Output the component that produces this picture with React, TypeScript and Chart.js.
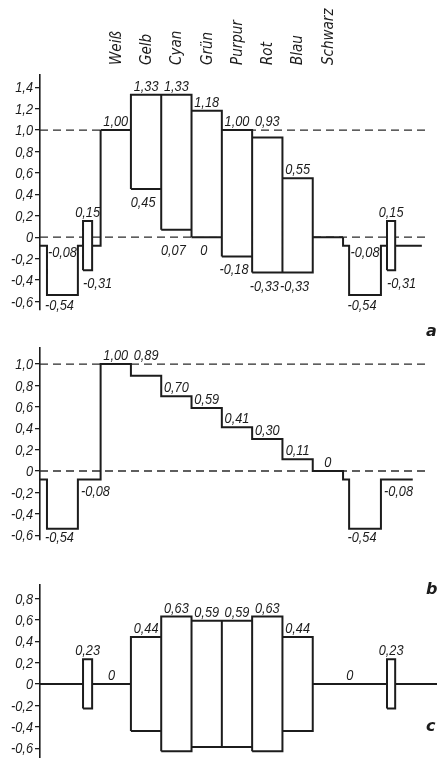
import React, { useEffect, useRef } from 'react';
import { Chart, registerables } from 'chart.js';

Chart.register(...registerables);

// ---------- data ----------
const colorNames = ['Weiß', 'Gelb', 'Cyan', 'Grün', 'Purpur', 'Rot', 'Blau', 'Schwarz'];
// a: composite signal, upper and lower envelope of each colour bar
const upperA = [1.0, 1.33, 1.33, 1.18, 1.0, 0.93, 0.55, 0];
const lowerA = [1.0, 0.45, 0.07, 0, -0.18, -0.33, -0.33, 0];
// b: luminance
const lumaB = [1.0, 0.89, 0.7, 0.59, 0.41, 0.3, 0.11, 0];
// c: chrominance amplitude
const chromaC = [0, 0.44, 0.63, 0.59, 0.59, 0.63, 0.44, 0];

const blankLevel = -0.08;
const syncLevel = -0.54;
const burstAmp = 0.23;
const refLevels = [1.0, 0];

const ticksA = [-0.6, -0.4, -0.2, 0, 0.2, 0.4, 0.6, 0.8, 1.0, 1.2, 1.4];
const ticksB = [-0.6, -0.4, -0.2, 0, 0.2, 0.4, 0.6, 0.8, 1.0];
const ticksC = [-0.6, -0.4, -0.2, 0, 0.2, 0.4, 0.6, 0.8];

// timing (in colour-bar widths from the start of the trace)
const barStart = 2;
const syncStarts = [0.23, 10.2];
const syncEnds = [1.25, 11.25];
const burstStarts = [1.42, 11.45];
const burstEnds = [1.72, 11.72];
const traceEnds = [12.6, 12.3, 13.6];
const refEnd = 12.87;

// ---------- helpers ----------
type P = { x: number; y: number | null };
const fmt = (v: number) => {
  if (Math.abs(v) < 1e-9) return '0';
  return (v < 0 ? '-' : '') + Math.abs(v).toFixed(2).replace('.', ',');
};
const tickFmt = (v: number) => {
  if (Math.abs(v) < 1e-9) return '0';
  return (v < 0 ? '-' : '') + Math.abs(v).toFixed(1).replace('.', ',');
};
const rect = (x0: number, x1: number, lo: number, hi: number): P[] => [
  { x: x0, y: lo },
  { x: x0, y: hi },
  { x: x1, y: hi },
  { x: x1, y: lo },
  { x: x0, y: lo },
];
const join = (parts: P[][]): P[] => {
  const out: P[] = [];
  parts.forEach((p, i) => {
    if (i) out.push({ x: p[0].x, y: null });
    out.push(...p);
  });
  return out;
};
const nBars = colorNames.length;
const barEnd = barStart + nBars;
const mid = (a: number, b: number) => (a + b) / 2;
const liftAbove = (v: number) => {
  for (const r of refLevels) if (r - v > 0 && r - v < 0.15) return r;
  return v;
};
const liftBelow = (v: number) => {
  for (const r of refLevels) if (v - r > 0 && v - r < 0.15) return r;
  return v;
};

// ---------- traces ----------
function syncPart(s: number, from: number, base: number): P[] {
  return [
    { x: from, y: base },
    { x: syncStarts[s], y: base },
    { x: syncStarts[s], y: syncLevel },
    { x: syncEnds[s], y: syncLevel },
    { x: syncEnds[s], y: base },
    { x: burstStarts[s], y: base },
  ];
}

const traceA: P[] = join([
  syncPart(0, 0, blankLevel),
  rect(burstStarts[0], burstEnds[0], blankLevel - burstAmp, blankLevel + burstAmp),
  [
    { x: burstEnds[0], y: blankLevel },
    { x: barStart, y: blankLevel },
    { x: barStart, y: upperA[0] },
  ],
  ...colorNames.map((_, i) => rect(barStart + i, barStart + i + 1, lowerA[i], upperA[i])),
  [{ x: barEnd, y: lowerA[nBars - 1] }, ...syncPart(1, barEnd, blankLevel)],
  rect(burstStarts[1], burstEnds[1], blankLevel - burstAmp, blankLevel + burstAmp),
  [
    { x: burstEnds[1], y: blankLevel },
    { x: traceEnds[0], y: blankLevel },
  ],
]);

const traceB: P[] = (() => {
  const pts: P[] = [];
  syncPart(0, 0, blankLevel).slice(0, 5).forEach((p) => pts.push(p));
  pts.push({ x: barStart, y: blankLevel });
  lumaB.forEach((v, i) => {
    pts.push({ x: barStart + i, y: v });
    pts.push({ x: barStart + i + 1, y: v });
  });
  syncPart(1, barEnd, blankLevel).slice(0, 5).forEach((p) => pts.push(p));
  pts.push({ x: traceEnds[1], y: blankLevel });
  return pts;
})();

const traceC: P[] = join([
  [
    { x: 0, y: 0 },
    { x: burstStarts[0], y: 0 },
  ],
  rect(burstStarts[0], burstEnds[0], -burstAmp, burstAmp),
  [
    { x: burstEnds[0], y: 0 },
    { x: barStart + 1, y: 0 },
  ],
  ...colorNames.map((_, i) => rect(barStart + i, barStart + i + 1, -chromaC[i], chromaC[i])),
  [
    { x: barEnd - 1, y: 0 },
    { x: burstStarts[1], y: 0 },
  ],
  rect(burstStarts[1], burstEnds[1], -burstAmp, burstAmp),
  [
    { x: burstEnds[1], y: 0 },
    { x: traceEnds[2], y: 0 },
  ],
]);

// white fills (floating bars) so the dashed reference lines do not show through the boxes
const fillBoxesA = colorNames
  .map((_, i) => ({ x: barStart + i + 0.5, y: [lowerA[i], upperA[i]] }))
  .filter((d) => d.y[1] - d.y[0] > 0);
const fillBurstsA = burstStarts.map((b, s) => ({
  x: mid(b, burstEnds[s]),
  y: [blankLevel - burstAmp, blankLevel + burstAmp],
}));
const fillBoxesC = colorNames
  .map((_, i) => ({ x: barStart + i + 0.5, y: [-chromaC[i], chromaC[i]] }))
  .filter((d) => d.y[1] - d.y[0] > 0);
const fillBurstsC = burstStarts.map((b, s) => ({ x: mid(b, burstEnds[s]), y: [-burstAmp, burstAmp] }));

// ---------- labels ----------
type L = { text: string; x: number; y: number; pos: 'above' | 'below'; gap?: number; dx?: number; align?: CanvasTextAlign };

const labelsA: L[] = [
  ...upperA
    .slice(0, nBars - 1)
    .map((v, i) => ({ text: fmt(v), x: barStart + i + 0.5, y: liftAbove(v), pos: 'above' as const })),
  ...lowerA.slice(1, nBars - 1).map((v, i) => ({
    text: fmt(v),
    x: barStart + i + 1.5,
    dx: -3,
    y: liftBelow(v),
    pos: 'below' as const,
    gap: 8,
  })),
  ...syncStarts.flatMap((s, k) => [
    { text: fmt(blankLevel), x: mid(s, syncEnds[k]), y: blankLevel, pos: 'below' as const, gap: 1 },
    { text: fmt(syncLevel), x: mid(s, syncEnds[k]), dx: -3, y: syncLevel, pos: 'below' as const, gap: 5 },
    { text: fmt(blankLevel + burstAmp), x: mid(burstStarts[k], burstEnds[k]), y: blankLevel + burstAmp, pos: 'above' as const },
    {
      text: fmt(blankLevel - burstAmp),
      x: burstStarts[k],
      align: 'left' as CanvasTextAlign,
      y: blankLevel - burstAmp,
      pos: 'below' as const,
      gap: 8,
    },
  ]),
];

const labelsB: L[] = [
  ...lumaB.map((v, i) => ({ text: fmt(v), x: barStart + i + 0.5, y: liftAbove(v), pos: 'above' as const })),
  ...syncStarts.flatMap((s, k) => [
    {
      text: fmt(blankLevel),
      x: syncEnds[k],
      dx: 3,
      align: 'left' as CanvasTextAlign,
      y: blankLevel,
      pos: 'below' as const,
      gap: 6,
    },
    { text: fmt(syncLevel), x: mid(s, syncEnds[k]), dx: -3, y: syncLevel, pos: 'below' as const, gap: 3 },
  ]),
];

const labelsC: L[] = [
  ...chromaC.slice(1, nBars - 1).map((v, i) => ({ text: fmt(v), x: barStart + i + 1.5, y: v, pos: 'above' as const })),
  { text: fmt(chromaC[0]), x: mid(burstEnds[0], barStart + 1), y: chromaC[0], pos: 'above' },
  { text: fmt(chromaC[nBars - 1]), x: mid(barEnd - 1, burstStarts[1]), y: chromaC[nBars - 1], pos: 'above' },
  ...burstStarts.map((b, k) => ({ text: fmt(burstAmp), x: mid(b, burstEnds[k]), y: burstAmp, pos: 'above' as const })),
];

// ---------- styling ----------
const INK = '#1c1c1c';
const NUM_FONT = "italic 15px 'Liberation Sans', 'DejaVu Sans', sans-serif";
const NUM_SQUEEZE = 0.85;
const HEAD_FONT = "italic 15px 'DejaVu Sans Condensed', 'DejaVu Sans', sans-serif";
const LETTER_FONT = "italic bold 16px 'DejaVu Sans', sans-serif";
const X_MAX = 13.1;

type PanelCfg = {
  top: number;
  height: number;
  padTop: number;
  padBottom: number;
  yMin: number;
  yMax: number;
  ticks: number[];
  trace: P[];
  fills: { x: number; y: number[] }[];
  bursts: { x: number; y: number[] }[];
  dashed: boolean;
  labels: L[];
  letter: string;
  letterY: number;
  headings: boolean;
};

const panels: PanelCfg[] = [
  {
    top: 0,
    height: 345,
    padTop: 75,
    padBottom: 35,
    yMin: -0.68,
    yMax: 1.514,
    ticks: ticksA,
    trace: traceA,
    fills: fillBoxesA,
    bursts: fillBurstsA,
    dashed: true,
    labels: labelsA,
    letter: 'a',
    letterY: 336,
    headings: true,
  },
  {
    top: 330,
    height: 280,
    padTop: 18,
    padBottom: 70,
    yMin: -0.645,
    yMax: 1.15,
    ticks: ticksB,
    trace: traceB,
    fills: [],
    bursts: [],
    dashed: true,
    labels: labelsB,
    letter: 'b',
    letterY: 594,
    headings: false,
  },
  {
    top: 560,
    height: 215,
    padTop: 25,
    padBottom: 17,
    yMin: -0.692,
    yMax: 0.925,
    ticks: ticksC,
    trace: traceC,
    fills: fillBoxesC,
    bursts: fillBurstsC,
    dashed: false,
    labels: labelsC,
    letter: 'c',
    letterY: 731,
    headings: false,
  },
];

function squeezedText(ctx: CanvasRenderingContext2D, text: string, x: number, y: number) {
  ctx.save();
  ctx.translate(x, y);
  ctx.scale(NUM_SQUEEZE, 1);
  ctx.fillText(text, 0, 0);
  ctx.restore();
}

function Panel({ cfg }: { cfg: PanelCfg }) {
  const ref = useRef<HTMLCanvasElement | null>(null);
  useEffect(() => {
    if (!ref.current) return;
    const burstWidth = burstEnds[0] - burstStarts[0];
    const datasets: any[] = [
      {
        type: 'line',
        data: cfg.trace,
        borderColor: INK,
        borderWidth: 2,
        pointRadius: 0,
        tension: 0,
        borderJoinStyle: 'miter',
        borderCapStyle: 'butt',
        spanGaps: false,
        fill: false,
        order: 0,
      },
    ];
    if (cfg.fills.length) {
      datasets.push({
        type: 'bar',
        data: cfg.fills,
        backgroundColor: '#ffffff',
        borderWidth: 0,
        grouped: false,
        barPercentage: 1,
        categoryPercentage: 1,
        order: 1,
      });
      datasets.push({
        type: 'bar',
        data: cfg.bursts,
        backgroundColor: '#ffffff',
        borderWidth: 0,
        grouped: false,
        barPercentage: burstWidth,
        categoryPercentage: 1,
        order: 1,
      });
    }
    if (cfg.dashed) {
      refLevels.forEach((r) => {
        datasets.push({
          type: 'line',
          data: [
            { x: 0, y: r },
            { x: refEnd, y: r },
          ],
          borderColor: '#2a2a2a',
          borderWidth: 1.3,
          borderDash: [8, 5],
          pointRadius: 0,
          fill: false,
          order: 2,
        });
      });
    }

    const labelPlugin = {
      id: 'panelText',
      afterDraw(chart: any) {
        const ctx = chart.ctx as CanvasRenderingContext2D;
        const xs = chart.scales.x;
        const ys = chart.scales.y;
        ctx.save();
        ctx.fillStyle = INK;
        ctx.font = NUM_FONT;
        // y tick labels
        ctx.textAlign = 'right';
        ctx.textBaseline = 'middle';
        cfg.ticks.forEach((v) => {
          squeezedText(ctx, tickFmt(v), ys.left + ys.width - 7, ys.getPixelForValue(v) + 1);
        });
        // value labels
        ctx.textBaseline = 'alphabetic';
        cfg.labels.forEach((l) => {
          const px = xs.getPixelForValue(l.x) + (l.dx || 0);
          let py = ys.getPixelForValue(l.y);
          if (l.pos === 'above') py -= 4;
          else py += (l.gap ?? 8) + 10;
          ctx.textAlign = l.align || 'center';
          squeezedText(ctx, l.text, px, py);
        });
        if (cfg.headings) {
          ctx.font = HEAD_FONT;
          ctx.textAlign = 'left';
          ctx.textBaseline = 'middle';
          colorNames.forEach((n, i) => {
            ctx.save();
            ctx.translate(xs.getPixelForValue(barStart + i + 0.5) + 1, 65);
            ctx.rotate(-Math.PI / 2);
            ctx.fillText(n, 0, 0);
            ctx.restore();
          });
        }
        ctx.font = LETTER_FONT;
        ctx.textAlign = 'left';
        ctx.textBaseline = 'alphabetic';
        ctx.fillText(cfg.letter, 426, cfg.letterY - cfg.top);
        ctx.restore();
      },
    };

    const chart = new Chart(ref.current, {
      type: 'line',
      data: { datasets },
      options: {
        animation: false,
        responsive: false,
        maintainAspectRatio: false,
        events: [],
        layout: { padding: { top: cfg.padTop, bottom: cfg.padBottom, left: 0, right: 0 } },
        plugins: { legend: { display: false }, tooltip: { enabled: false } },
        scales: {
          x: {
            type: 'linear',
            min: 0,
            max: X_MAX,
            display: false,
            offset: false,
            afterBuildTicks: (s: any) => {
              s.ticks = Array.from({ length: 14 }, (_, i) => ({ value: i }));
            },
          },
          y: {
            type: 'linear',
            min: cfg.yMin,
            max: cfg.yMax,
            afterBuildTicks: (s: any) => {
              s.ticks = cfg.ticks.map((v) => ({ value: v }));
            },
            afterFit: (s: any) => {
              s.width = 40;
            },
            ticks: {
              display: false,
              callback: (v: any) => tickFmt(Number(v)),
            },
            grid: { drawOnChartArea: false, drawTicks: true, tickLength: 5, color: INK, lineWidth: 1.3 },
            border: { display: true, color: INK, width: 1.6 },
          },
        },
      } as any,
      plugins: [labelPlugin],
    });
    return () => chart.destroy();
  }, [cfg]);
  return (
    <canvas
      ref={ref}
      width={437}
      height={cfg.height}
      style={{ position: 'absolute', left: 0, top: cfg.top, width: 437, height: cfg.height }}
    />
  );
}

export default function App() {
  return (
    <div
      style={{
        position: 'fixed',
        left: 0,
        top: 0,
        width: 437,
        height: 758,
        overflow: 'hidden',
        background: '#ffffff',
      }}
    >
      {panels.map((p, i) => (
        <Panel key={i} cfg={p} />
      ))}
    </div>
  );
}
